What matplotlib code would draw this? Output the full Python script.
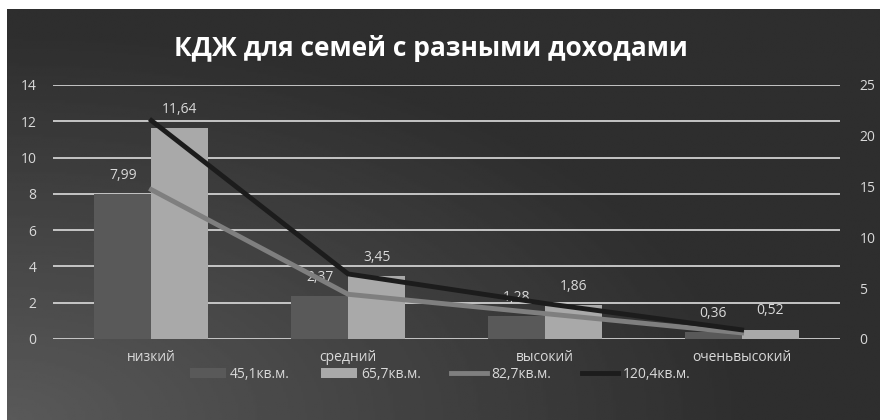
import numpy as np
import matplotlib
matplotlib.use('Agg')
from matplotlib import pyplot as plt

# данные
categories = ['низкий', 'средний', 'высокий', 'оченьвысокий']
bars_451 = [7.99, 2.37, 1.28, 0.36]
bars_657 = [11.64, 3.45, 1.86, 0.52]
line_827 = [14.7, 4.4, 2.5, 0.6]      # вспомогательная ось
line_1204 = [21.5, 6.4, 3.5, 0.9]     # вспомогательная ось
labels_451 = ['7,99', '2,37', '1,28', '0,36']
labels_657 = ['11,64', '3,45', '1,86', '0,52']
series_names = ['45,1кв.м.', '65,7кв.м.', '82,7кв.м.', '120,4кв.м.']

plt.rcParams['font.family'] = ['Open Sans', 'DejaVu Sans']
txt = '#d9d9d9'

fig = plt.figure(figsize=(8.8, 4.2), dpi=100)
fig.patch.set_facecolor('white')

# тёмный фон с градиентом (светлее в левом нижнем углу)
bg = fig.add_axes([7/880, 0, 1 - 7/880, 1 - 9/420], zorder=-10)
yy, xx = np.mgrid[0:1:200j, 0:1:400j]
d = np.clip(1 - np.sqrt((xx / 0.85) ** 2 + (yy / 0.95) ** 2), 0, 1)
shade = 0.18 + 0.17 * d
bg.imshow(shade, cmap='gray', vmin=0, vmax=1, origin='lower', aspect='auto',
          extent=[0, 1, 0, 1])
bg.axis('off')

ax = fig.add_axes([53/880, 1 - 339/420, (840 - 53)/880, (339 - 85)/420])
ax.patch.set_alpha(0)
x = np.arange(len(categories))
w = 0.29

ax.bar(x - w/2, bars_451, w, color='#595959', zorder=3, label=series_names[0])
ax.bar(x + w/2, bars_657, w, color='#a9a9a9', zorder=3, label=series_names[1])

for i in range(len(categories)):
    ax.annotate(labels_451[i], (x[i] - w/2, bars_451[i]), xytext=(0, 8),
                textcoords='offset points', ha='center', va='bottom',
                color=txt, fontsize=10, zorder=6)
    ax.annotate(labels_657[i], (x[i] + w/2, bars_657[i]), xytext=(0, 8),
                textcoords='offset points', ha='center', va='bottom',
                color=txt, fontsize=10, zorder=6)

ax.set_xlim(-0.5, 3.5)
ax.set_ylim(0, 14)
ax.set_yticks(range(0, 15, 2))
ax.set_xticks(x)
ax.set_xticklabels(categories)
ax.grid(axis='y', color='#d0d0d0', lw=1.3, zorder=0)
for s in ax.spines.values():
    s.set_visible(False)
ax.tick_params(length=0, colors=txt, labelsize=10)
ax.tick_params(axis='y', pad=12)
ax.tick_params(axis='x', pad=8)

ax2 = ax.twinx()
ax2.set_ylim(0, 25)
ax2.set_yticks(range(0, 26, 5))
ax2.plot(x, line_827, color='#7f7f7f', lw=3.5, zorder=4, label=series_names[2])
ax2.plot(x, line_1204, color='#1c1c1c', lw=3.5, zorder=4, label=series_names[3])
for s in ax2.spines.values():
    s.set_visible(False)
ax2.tick_params(length=0, colors=txt, labelsize=10, pad=14)

fig.text(0.49, 0.885, 'КДЖ для семей с разными доходами', ha='center', va='center',
         color='white', fontsize=19, fontweight='bold')

h1, lab1 = ax.get_legend_handles_labels()
h2, lab2 = ax2.get_legend_handles_labels()
fig.legend(h1 + h2, lab1 + lab2, loc='center', bbox_to_anchor=(0.5, 1 - 374/420),
           ncol=4, frameon=False, labelcolor=txt, fontsize=10,
           handlelength=2.6, handletextpad=0.3, columnspacing=2.2)

fig.savefig('out.png', dpi=100)
